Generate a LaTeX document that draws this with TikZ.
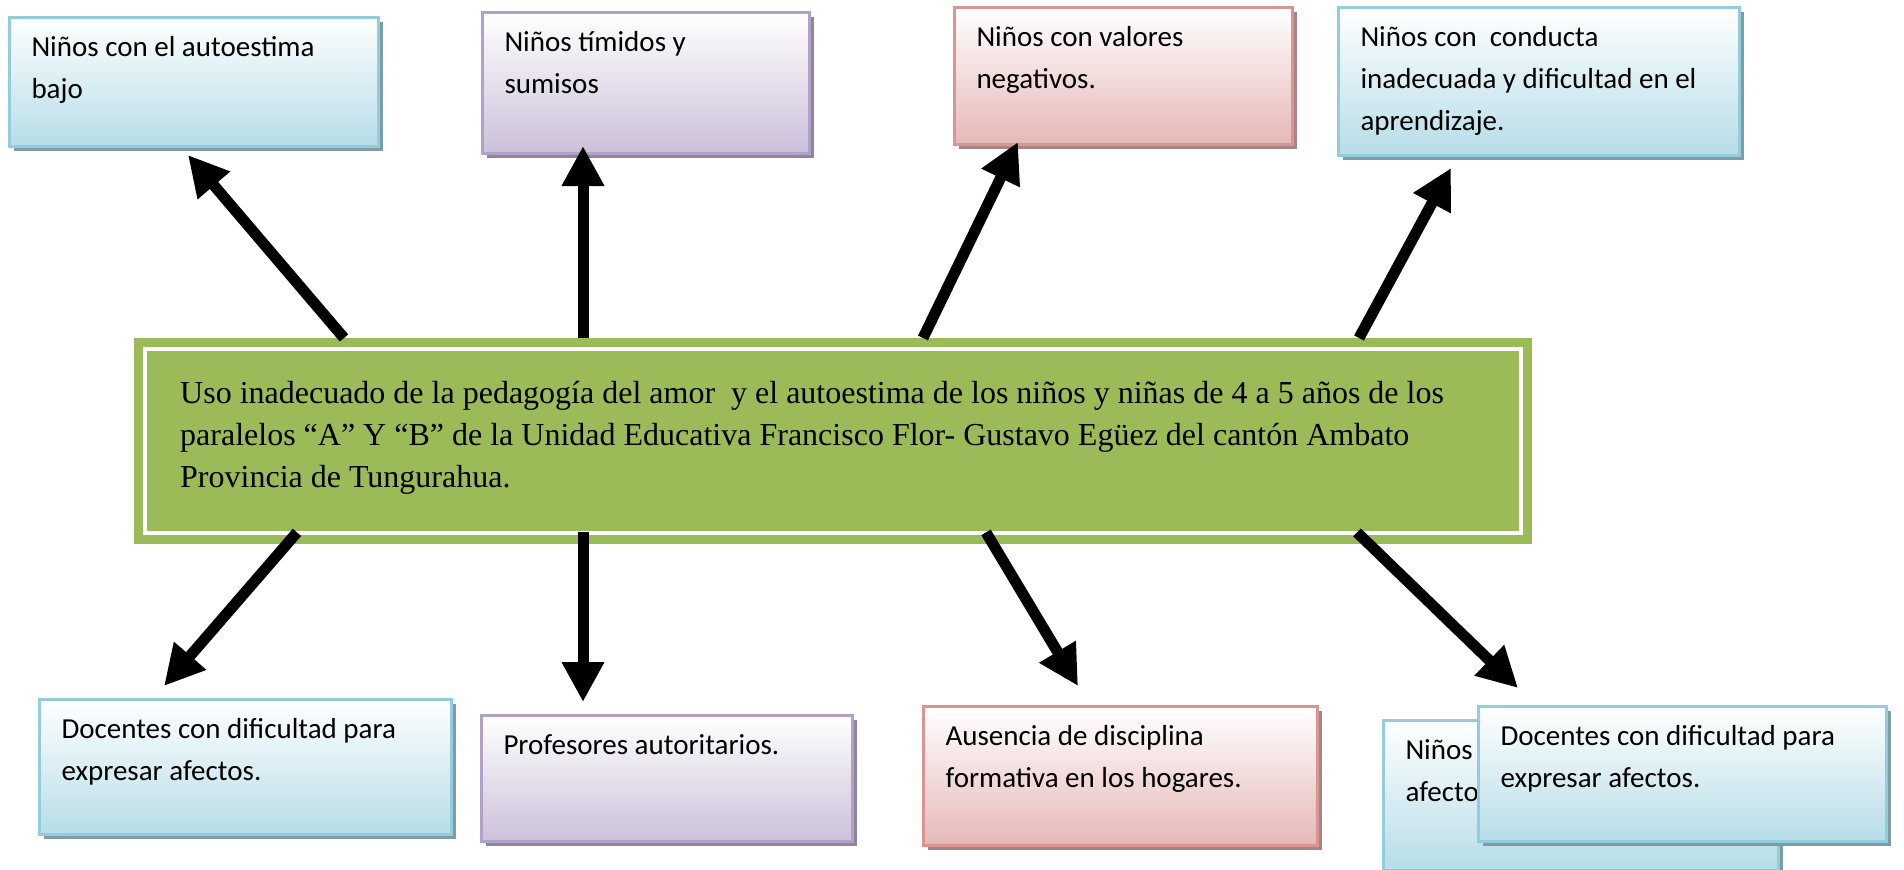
\documentclass[tikz,border=0pt]{standalone}
\usepackage{fontspec}
\setmainfont{Liberation Serif}
\newfontfamily\cajafont{Carlito}
\usetikzlibrary{arrows.meta,shadows}
\definecolor{azulborde}{HTML}{93CDDD}
\definecolor{azulfondo}{HTML}{B6DDE8}
\definecolor{azulsombra}{HTML}{7E9CA5}
\definecolor{moradoborde}{HTML}{B2A1C7}
\definecolor{moradofondo}{HTML}{CCC0DA}
\definecolor{moradosombra}{HTML}{8E8699}
\definecolor{rosaborde}{HTML}{D99594}
\definecolor{rosafondo}{HTML}{E5B8B7}
\definecolor{rosasombra}{HTML}{A88585}
\definecolor{verde}{HTML}{9BBB59}
\newcommand{\caja}[3]{\parbox[t][#2][t]{#1}{\cajafont\fontsize{29}{42}\selectfont\raggedright\strut #3}}
\tikzset{
  caja/.style={anchor=north west, inner xsep=22pt, inner ysep=9.6pt, line width=3pt},
  azul/.style={caja, draw=azulborde, top color=white, bottom color=azulfondo,
    drop shadow={shadow xshift=4pt, shadow yshift=-4pt, fill=azulsombra, opacity=1}},
  morado/.style={caja, draw=moradoborde, top color=white, bottom color=moradofondo,
    drop shadow={shadow xshift=4pt, shadow yshift=-4pt, fill=moradosombra, opacity=1}},
  rosa/.style={caja, draw=rosaborde, top color=white, bottom color=rosafondo,
    drop shadow={shadow xshift=4pt, shadow yshift=-4pt, fill=rosasombra, opacity=1}},
  central/.style={anchor=north west, fill=verde, inner xsep=46pt, inner ysep=35.6pt},
  flecha/.style={line width=11pt, -{Triangle[length=40pt,width=40pt]}}
}
\begin{document}
\begin{tikzpicture}[x=1pt,y=-1pt]
  \useasboundingbox (0,0) rectangle (1904,870);
  \node[azul] (n1) at (8,16) {\caja{325pt}{109.8pt}{Niños con el autoestima\\ bajo}};
  \node[morado] (n2) at (481,11) {\caja{283pt}{121.8pt}{Niños tímidos y\\ sumisos}};
  \node[rosa] (n3) at (953,6) {\caja{294pt}{117.8pt}{Niños con valores\\ negativos.}};
  \node[azul] (n4) at (1337,6) {\caja{357pt}{128.8pt}{Niños con\ \ conducta\\ inadecuada y dificultad en el\\ aprendizaje.}};
  \node[azul] (n5) at (38,698) {\caja{368pt}{115.8pt}{Docentes con dificultad para\\ expresar afectos.}};
  \node[morado] (n6) at (480,714) {\caja{327pt}{106.8pt}{Profesores autoritarios.}};
  \node[rosa] (n7) at (922,705) {\caja{350pt}{119.8pt}{Ausencia de disciplina\\ formativa en los hogares.}};
  \node[azul] (n8) at (1382,719) {\caja{351pt}{130.8pt}{Niños\\ afectos.}};
  \node[azul] (n9) at (1477,705) {\caja{364pt}{115.8pt}{Docentes con dificultad para\\ expresar afectos.}};

  \node[central] (c) at (134,338) {\parbox[t][134.8pt][t]{1306pt}{\fontsize{32}{42}\selectfont\raggedright\strut
    Uso inadecuado de la pedagogía del amor\ \ y el autoestima de los niños y niñas de 4 a 5 años de los\\
    paralelos “A” Y “B” de la Unidad Educativa Francisco Flor- Gustavo Egüez del cantón Ambato\\
    Provincia de Tungurahua.}};
  \draw[white, line width=4pt] ([shift={(11pt,-11pt)}]c.north west) rectangle ([shift={(-11pt,11pt)}]c.south east);

  \coordinate (cs) at ([yshift=12pt]c.south);
  \coordinate (f1) at (188,155);
  \coordinate (f2) at (583,146);
  \coordinate (f3) at (1018,142);
  \coordinate (f4) at (1451,168);
  \coordinate (f5) at (164,686);
  \coordinate (f6) at (583,702);
  \coordinate (f7) at (1078,686);
  \coordinate (f8) at (1518,688);
  \draw[flecha] (c.north -| 344,0) -- (f1);
  \draw[flecha] (c.north -| 583,0) -- (f2);
  \draw[flecha] (c.north -| 923,0) -- (f3);
  \draw[flecha] (c.north -| 1359,0) -- (f4);
  \draw[flecha] (cs -| 297,0) -- (f5);
  \draw[flecha] (cs -| 583,0) -- (f6);
  \draw[flecha] (cs -| 986,0) -- (f7);
  \draw[flecha] (cs -| 1357,0) -- (f8);
\end{tikzpicture}
\end{document}
